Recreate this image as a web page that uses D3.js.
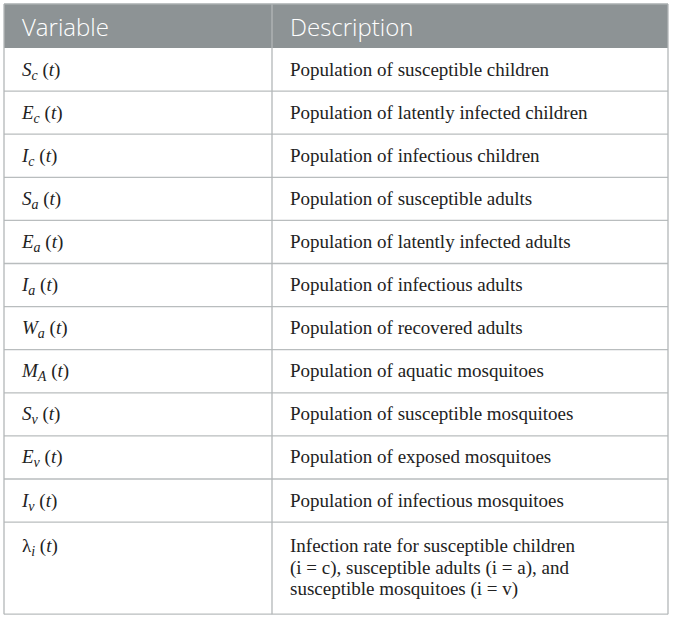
<!DOCTYPE html>
<html>
<head>
<meta charset="utf-8">
<script src="https://cdn.jsdelivr.net/npm/d3@7"></script>
<style>
  body { margin: 0; background: #fff; }
  svg { display: block; }
</style>
</head>
<body>
<svg id="chart"></svg>
<script>
// Table content
var headers = ["Variable", "Description"];
var symbols = ["S", "E", "I", "S", "E", "I", "W", "M", "S", "E", "I", "λ"];
var subscripts = ["c", "c", "c", "a", "a", "a", "a", "A", "v", "v", "v", "i"];
var descriptions = [
  "Population of susceptible children",
  "Population of latently infected children",
  "Population of infectious children",
  "Population of susceptible adults",
  "Population of latently infected adults",
  "Population of infectious adults",
  "Population of recovered adults",
  "Population of aquatic mosquitoes",
  "Population of susceptible mosquitoes",
  "Population of exposed mosquitoes",
  "Population of infectious mosquitoes",
  "Infection rate for susceptible children\n(i = c), susceptible adults (i = a), and\nsusceptible mosquitoes (i = v)"
];

var width = 673, height = 620;
var tLeft = 4, tRight = 668, tTop = 4, headerH = 44, colSplit = 272;
var rowH = 43.1, extraLine = 24.5, lineH = 21.6, pad = 18;

var svg = d3.select("#chart")
  .attr("width", width)
  .attr("height", height);

// build row info from the arrays
var rows = symbols.map(function(s, i) {
  return { sym: s, sub: subscripts[i], lines: descriptions[i].split("\n") };
});
var y0 = tTop + headerH;
rows.forEach(function(d) {
  d.y = y0;
  d.h = rowH + (d.lines.length - 1) * extraLine;
  y0 += d.h;
});
var tBottom = y0;

// column positions
var x = d3.scaleOrdinal().domain(headers).range([tLeft, colSplit]);

// header
svg.append("rect")
  .attr("x", tLeft).attr("y", tTop)
  .attr("width", tRight - tLeft).attr("height", headerH)
  .attr("fill", "#8d9395");

svg.selectAll(".head")
  .data(headers)
  .enter()
  .append("text")
  .attr("class", "head")
  .attr("x", function(d) { return x(d) + pad; })
  .attr("y", tTop + 32)
  .attr("fill", "#fff")
  .style("font-family", "'Open Sans', sans-serif")
  .style("font-weight", 300)
  .style("font-size", "24px")
  .text(function(d) { return d; });

// row lines
svg.selectAll(".rowline")
  .data(rows)
  .enter()
  .append("line")
  .attr("class", "rowline")
  .attr("x1", tLeft).attr("x2", tRight)
  .attr("y1", function(d) { return d.y + d.h; })
  .attr("y2", function(d) { return d.y + d.h; })
  .attr("stroke", "#b9bdbe")
  .attr("stroke-width", 1.3);

// vertical lines
svg.selectAll(".vline")
  .data([tLeft, colSplit, tRight])
  .enter()
  .append("line")
  .attr("x1", function(d) { return d; }).attr("x2", function(d) { return d; })
  .attr("y1", tTop).attr("y2", tBottom)
  .attr("stroke", "#b3b7b8")
  .attr("stroke-width", 1.3);

svg.append("line")
  .attr("x1", tLeft).attr("x2", tRight)
  .attr("y1", tTop).attr("y2", tTop)
  .attr("stroke", "#a9aeaf").attr("stroke-width", 1.3);

var serif = "'Liberation Serif', 'DejaVu Serif', serif";

// variable column
var vars = svg.selectAll(".var")
  .data(rows)
  .enter()
  .append("text")
  .attr("class", "var")
  .attr("x", x("Variable") + pad)
  .attr("y", function(d) { return d.y + (d.lines.length > 1 ? 30 : rowH / 2 + 6); })
  .attr("fill", "#222")
  .style("font-family", serif)
  .style("font-size", "19px");

vars.append("tspan")
  .style("font-style", function(d) { return d.sym === "λ" ? "normal" : "italic"; })
  .text(function(d) { return d.sym; });
vars.append("tspan")
  .attr("dy", 4)
  .style("font-style", "italic")
  .style("font-size", "14px")
  .text(function(d) { return d.sub; });
vars.append("tspan")
  .attr("dy", -4)
  .text(" (");
vars.append("tspan")
  .style("font-style", "italic")
  .text("t");
vars.append("tspan")
  .text(")");

// description column
var desc = svg.selectAll(".desc")
  .data(rows)
  .enter()
  .append("text")
  .attr("class", "desc")
  .attr("fill", "#222")
  .style("font-family", serif)
  .style("font-size", "19px");

desc.selectAll("tspan")
  .data(function(d) {
    return d.lines.map(function(l, j) {
      var base = d.lines.length > 1 ? d.y + 30 : d.y + rowH / 2 + 6;
      return { text: l, y: base + j * lineH };
    });
  })
  .enter()
  .append("tspan")
  .attr("x", x("Description") + pad)
  .attr("y", function(d) { return d.y; })
  .text(function(d) { return d.text; });
</script>
</body>
</html>
